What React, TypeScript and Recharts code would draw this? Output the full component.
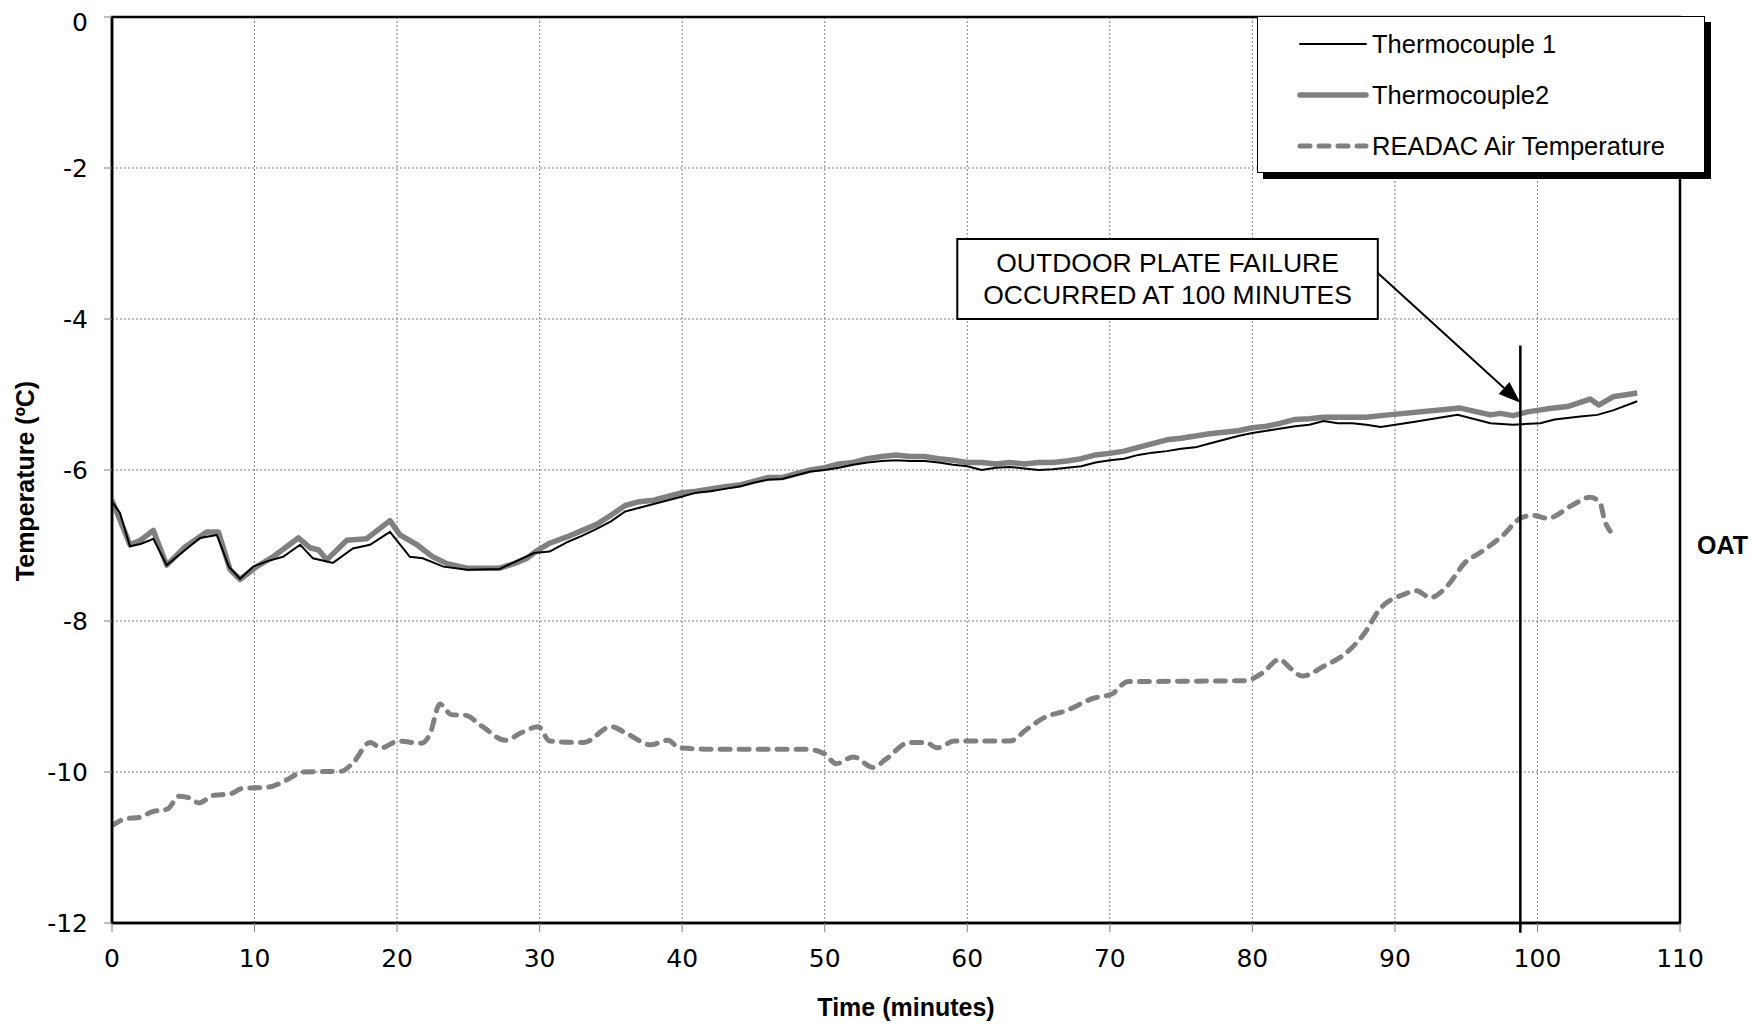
import React from "react";
import {
  CartesianGrid,
  Legend,
  Line,
  LineChart,
  ReferenceArea,
  ReferenceLine,
  XAxis,
  YAxis,
} from "recharts";

// [time (min), temperature (°C)]
const thermocouple1: [number, number][] = [
  [0, -6.42], [0.56, -6.57], [1.26, -7.01], [2, -6.98], [2.67, -6.93], [2.9, -6.91],
  [3.84, -7.26], [5.0, -7.08], [6.18, -6.9], [7.35, -6.86], [8.2, -7.28], [8.98, -7.44],
  [9.9, -7.28], [10.86, -7.21], [12.0, -7.15], [13.2, -6.99], [14.1, -7.17], [15.5, -7.23],
  [16.9, -7.04], [18.1, -6.99], [19.5, -6.82], [20.9, -7.15], [21.8, -7.17], [23.25, -7.28],
  [24.9, -7.32], [27.2, -7.31], [29.6, -7.1], [30.7, -7.08], [32, -6.95], [33, -6.87],
  [34, -6.78], [35, -6.68], [36, -6.55], [37, -6.5], [38, -6.45], [39, -6.4], [40, -6.35],
  [41, -6.3], [42, -6.28], [43, -6.25], [44, -6.22], [45, -6.17], [46, -6.13], [47, -6.12],
  [48, -6.07], [49, -6.02], [50, -6.0], [51, -5.97], [52, -5.93], [53, -5.9], [54, -5.88],
  [55, -5.87], [56, -5.88], [57, -5.88], [58, -5.9], [59, -5.93], [60, -5.95], [61, -6.0],
  [62, -5.97], [63, -5.96], [64, -5.98], [65, -6.0], [66, -5.99], [67, -5.97], [68, -5.95],
  [69, -5.9], [70, -5.87], [71, -5.85], [72, -5.8], [73, -5.77], [74, -5.75], [75, -5.72],
  [76, -5.7], [77, -5.65], [78, -5.6], [79, -5.55], [80, -5.51], [81, -5.48], [82, -5.45],
  [83, -5.42], [84, -5.4], [85, -5.35], [86, -5.38], [87, -5.38], [88, -5.4], [89, -5.43],
  [91.4, -5.36], [94.4, -5.27], [96.7, -5.38], [98.3, -5.4], [100.2, -5.38], [101.2, -5.33],
  [103, -5.29], [104.2, -5.27], [105.3, -5.21], [107, -5.09],
];

const thermocouple2: [number, number][] = [
  [0, -6.4], [1.26, -6.99], [2, -6.93], [2.9, -6.8], [3.84, -7.26], [5.12, -7.02],
  [6.64, -6.82], [7.46, -6.82], [8.28, -7.32], [8.98, -7.45], [10.15, -7.28], [11.3, -7.15],
  [13.07, -6.9], [13.9, -7.03], [14.5, -7.06], [15.07, -7.19], [16.47, -6.93], [17.87, -6.91],
  [19.5, -6.67], [20.2, -6.86], [21.4, -6.99], [22.5, -7.15], [23.5, -7.24], [24.9, -7.3],
  [27.2, -7.3], [28.2, -7.24], [29.1, -7.17], [29.8, -7.07], [30.7, -6.97], [32, -6.88],
  [33, -6.8], [34, -6.72], [35, -6.6], [36, -6.47], [37, -6.42], [38, -6.4], [39, -6.35],
  [40, -6.3], [41, -6.28], [42, -6.25], [43, -6.22], [44, -6.2], [45, -6.15], [46, -6.1],
  [47, -6.1], [48, -6.05], [49, -6.0], [50, -5.97], [51, -5.92], [52, -5.9], [53, -5.85],
  [54, -5.82], [55, -5.8], [56, -5.82], [57, -5.82], [58, -5.85], [59, -5.87], [60, -5.9],
  [61, -5.9], [62, -5.92], [63, -5.9], [64, -5.92], [65, -5.9], [66, -5.9], [67, -5.88],
  [68, -5.85], [69, -5.8], [70, -5.78], [71, -5.75], [72, -5.7], [73, -5.65], [74, -5.6],
  [75, -5.58], [76, -5.55], [77, -5.52], [78, -5.5], [79, -5.48], [80, -5.44], [81, -5.42],
  [82, -5.38], [83, -5.33], [84, -5.32], [85, -5.3], [86, -5.3], [87, -5.3], [88, -5.3],
  [89, -5.28], [94.6, -5.18], [96.7, -5.27], [97.4, -5.25], [98.3, -5.28], [99.3, -5.23],
  [100.7, -5.19], [102.1, -5.16], [103.7, -5.06], [104.3, -5.14], [105.3, -5.03], [107, -4.98],
];

const readacAir: [number, number][] = [
  [0, -10.71], [0.94, -10.62], [2, -10.6], [2.76, -10.53], [3.9, -10.49], [4.7, -10.32],
  [5.5, -10.35], [6.1, -10.41], [7.1, -10.31], [8.3, -10.29], [9.1, -10.22], [11, -10.2],
  [12.2, -10.11], [13.4, -10.0], [16.1, -9.99], [16.9, -9.88], [18.1, -9.61], [18.9, -9.68],
  [20.1, -9.59], [21.7, -9.62], [22.3, -9.5], [23, -9.1], [23.8, -9.24], [24.8, -9.25],
  [26, -9.4], [27.6, -9.58], [28.7, -9.48], [29.9, -9.4], [30.7, -9.59], [33.1, -9.61],
  [35, -9.4], [36.2, -9.5], [37.8, -9.64], [39, -9.58], [39.8, -9.68], [42.5, -9.7],
  [48.8, -9.7], [50, -9.76], [50.8, -9.89], [52, -9.8], [53.4, -9.94], [54.3, -9.83],
  [55.9, -9.61], [57.1, -9.61], [57.9, -9.68], [59.1, -9.59], [63, -9.59], [64.2, -9.43],
  [65.4, -9.28], [66.9, -9.19], [68.9, -9.02], [70.1, -8.97], [71.3, -8.8], [72.4, -8.8],
  [79.5, -8.79], [80.7, -8.69], [81.9, -8.51], [82.7, -8.63], [83.5, -8.73], [85, -8.6],
  [86.6, -8.42], [87.8, -8.18], [89, -7.83], [90.6, -7.65], [91.5, -7.6], [92.5, -7.69],
  [93.7, -7.53], [94.9, -7.23], [96.1, -7.08], [97.6, -6.86], [98.8, -6.64], [99.7, -6.6],
  [100.7, -6.64], [102.5, -6.46], [103.7, -6.36], [104.4, -6.44], [104.7, -6.66], [105.1, -6.81],
];

const xTicks = [0, 10, 20, 30, 40, 50, 60, 70, 80, 90, 100, 110];
const yTicks = [-12, -10, -8, -6, -4, -2, 0];

const failureTime = 98.8;
const noteLines = ["OUTDOOR PLATE FAILURE", "OCCURRED AT 100 MINUTES"];

const toRows = (pts: [number, number][]) => pts.map(([t, v]) => ({ t, v }));

const GRAY = "#808080";
const FONT = "'Liberation Sans', Arial, sans-serif";
const TICK_FONT = "'DejaVu Sans', sans-serif";

function LegendBox() {
  const rows = [
    { name: "Thermocouple 1", stroke: "#000", width: 2, dash: undefined },
    { name: "Thermocouple2", stroke: GRAY, width: 5.5, dash: undefined },
    { name: "READAC Air Temperature", stroke: GRAY, width: 5, dash: "10 9" },
  ];
  return (
    <div
      style={{
        width: 446,
        height: 155,
        border: "1.5px solid #000",
        background: "#fff",
        boxShadow: "6px 6px 0 #000",
        position: "relative",
        fontFamily: FONT,
        fontSize: 25.5,
      }}
    >
      {rows.map((r, i) => (
        <div
          key={r.name}
          style={{
            position: "absolute",
            left: 39,
            top: 27 + i * 51 - 14,
            height: 28,
            display: "flex",
            alignItems: "center",
          }}
        >
          <svg width={72} height={28}>
            <line
              x1={3}
              y1={14}
              x2={69}
              y2={14}
              stroke={r.stroke}
              strokeWidth={r.width}
              strokeDasharray={r.dash}
              strokeLinecap="round"
            />
          </svg>
          <span style={{ marginLeft: 3, whiteSpace: "nowrap" }}>{r.name}</span>
        </div>
      ))}
    </div>
  );
}

function ArrowShape(props: any) {
  const { x1, y1, x2, y2 } = props;
  const ang = Math.atan2(y2 - y1, x2 - x1);
  const len = 22;
  const half = 8;
  const bx = x2 - len * Math.cos(ang);
  const by = y2 - len * Math.sin(ang);
  const px = -Math.sin(ang) * half;
  const py = Math.cos(ang) * half;
  return (
    <g>
      <line x1={x1} y1={y1} x2={bx} y2={by} stroke="#000" strokeWidth={2} />
      <polygon points={`${x2},${y2} ${bx + px},${by + py} ${bx - px},${by - py}`} fill="#000" />
    </g>
  );
}

function NoteLabel(props: any) {
  const { x, y, width, height } = props.viewBox || {};
  return (
    <g>
      {noteLines.map((line, i) => (
        <text
          key={line}
          x={x + width / 2}
          y={y + height * (i === 0 ? 0.3 : 0.7)}
          textAnchor="middle"
          dominantBaseline="central"
          fontFamily={FONT}
          fontSize={26.5}
          fill="#000"
        >
          {line}
        </text>
      ))}
    </g>
  );
}

export default function App() {
  return (
    <div style={{ position: "relative", width: 1743, height: 1013, background: "#fff" }}>
      <LineChart
        width={1743}
        height={1013}
        margin={{ top: 9, right: 71, bottom: 0, left: 0 }}
      >
        <CartesianGrid stroke={GRAY} strokeDasharray="2 2" strokeWidth={1} />
        <XAxis
          type="number"
          dataKey="t"
          domain={[0, 110]}
          ticks={xTicks}
          allowDataOverflow
          stroke="#000"
          axisLine={{ stroke: "#000", strokeWidth: 2.5 }}
          tickLine={{ stroke: GRAY, strokeWidth: 1 }}
          tickSize={9}
          tickMargin={17}
          tick={{ fill: "#000", fontSize: 25, fontFamily: TICK_FONT }}
          height={98}
          label={{
            content: () => (
              <text
                x={898}
                y={999}
                textAnchor="middle"
                dominantBaseline="central"
                fontFamily={FONT}
                fontWeight="bold"
                fontSize={25}
                fill="#000"
              >
                Time (minutes)
              </text>
            ),
          }}
        />
        <YAxis
          type="number"
          domain={[-12, 0]}
          ticks={yTicks}
          allowDataOverflow
          width={104}
          axisLine={{ stroke: "#000", strokeWidth: 2.5 }}
          tickLine={{ stroke: GRAY, strokeWidth: 1 }}
          tickSize={8}
          tickMargin={16}
          tick={{ fill: "#000", fontSize: 25, fontFamily: TICK_FONT }}
          label={{
            content: () => (
              <text
                x={17}
                y={473}
                transform="rotate(-90, 17, 473)"
                textAnchor="middle"
                dominantBaseline="central"
                fontFamily={FONT}
                fontWeight="bold"
                fontSize={25}
                fill="#000"
              >
                Temperature (ºC)
              </text>
            ),
          }}
        />
        <ReferenceArea
          x1={0}
          x2={110}
          y1={-12}
          y2={0}
          fill="none"
          stroke="#000"
          strokeWidth={2.5}
          ifOverflow="visible"
        />
        <Line
          data={toRows(readacAir)}
          dataKey="v"
          name="READAC Air Temperature"
          type="monotone"
          stroke={GRAY}
          strokeWidth={5}
          strokeDasharray="10 9"
          strokeLinecap="round"
          dot={false}
          isAnimationActive={false}
        />
        <Line
          data={toRows(thermocouple2)}
          dataKey="v"
          name="Thermocouple2"
          type="linear"
          stroke={GRAY}
          strokeWidth={5.5}
          strokeLinejoin="round"
          dot={false}
          isAnimationActive={false}
        />
        <Line
          data={toRows(thermocouple1)}
          dataKey="v"
          name="Thermocouple 1"
          type="linear"
          stroke="#000"
          strokeWidth={2}
          dot={false}
          isAnimationActive={false}
        />
        <ReferenceLine
          segment={[
            { x: failureTime, y: -4.35 },
            { x: failureTime, y: -12.13 },
          ]}
          stroke="#000"
          strokeWidth={2.5}
          ifOverflow="visible"
        />
        <ReferenceArea
          x1={59.3}
          x2={88.8}
          y1={-4.0}
          y2={-2.94}
          fill="#fff"
          fillOpacity={1}
          stroke="#000"
          strokeWidth={2}
          label={<NoteLabel />}
        />
        <ReferenceLine
          segment={[
            { x: 88.8, y: -3.39 },
            { x: failureTime, y: -5.11 },
          ]}
          shape={<ArrowShape />}
          ifOverflow="visible"
        />
        <ReferenceLine
          y={-7}
          stroke="none"
          label={{
            value: "OAT",
            position: "right",
            offset: 17,
            fill: "#000",
            fontWeight: "bold",
            fontSize: 25,
            fontFamily: FONT,
          }}
        />
        <Legend
          layout="vertical"
          align="center"
          verticalAlign="middle"
          wrapperStyle={{ left: 1249, top: 8, width: 452, height: 162 }}
          content={() => <LegendBox />}
        />
      </LineChart>
    </div>
  );
}
